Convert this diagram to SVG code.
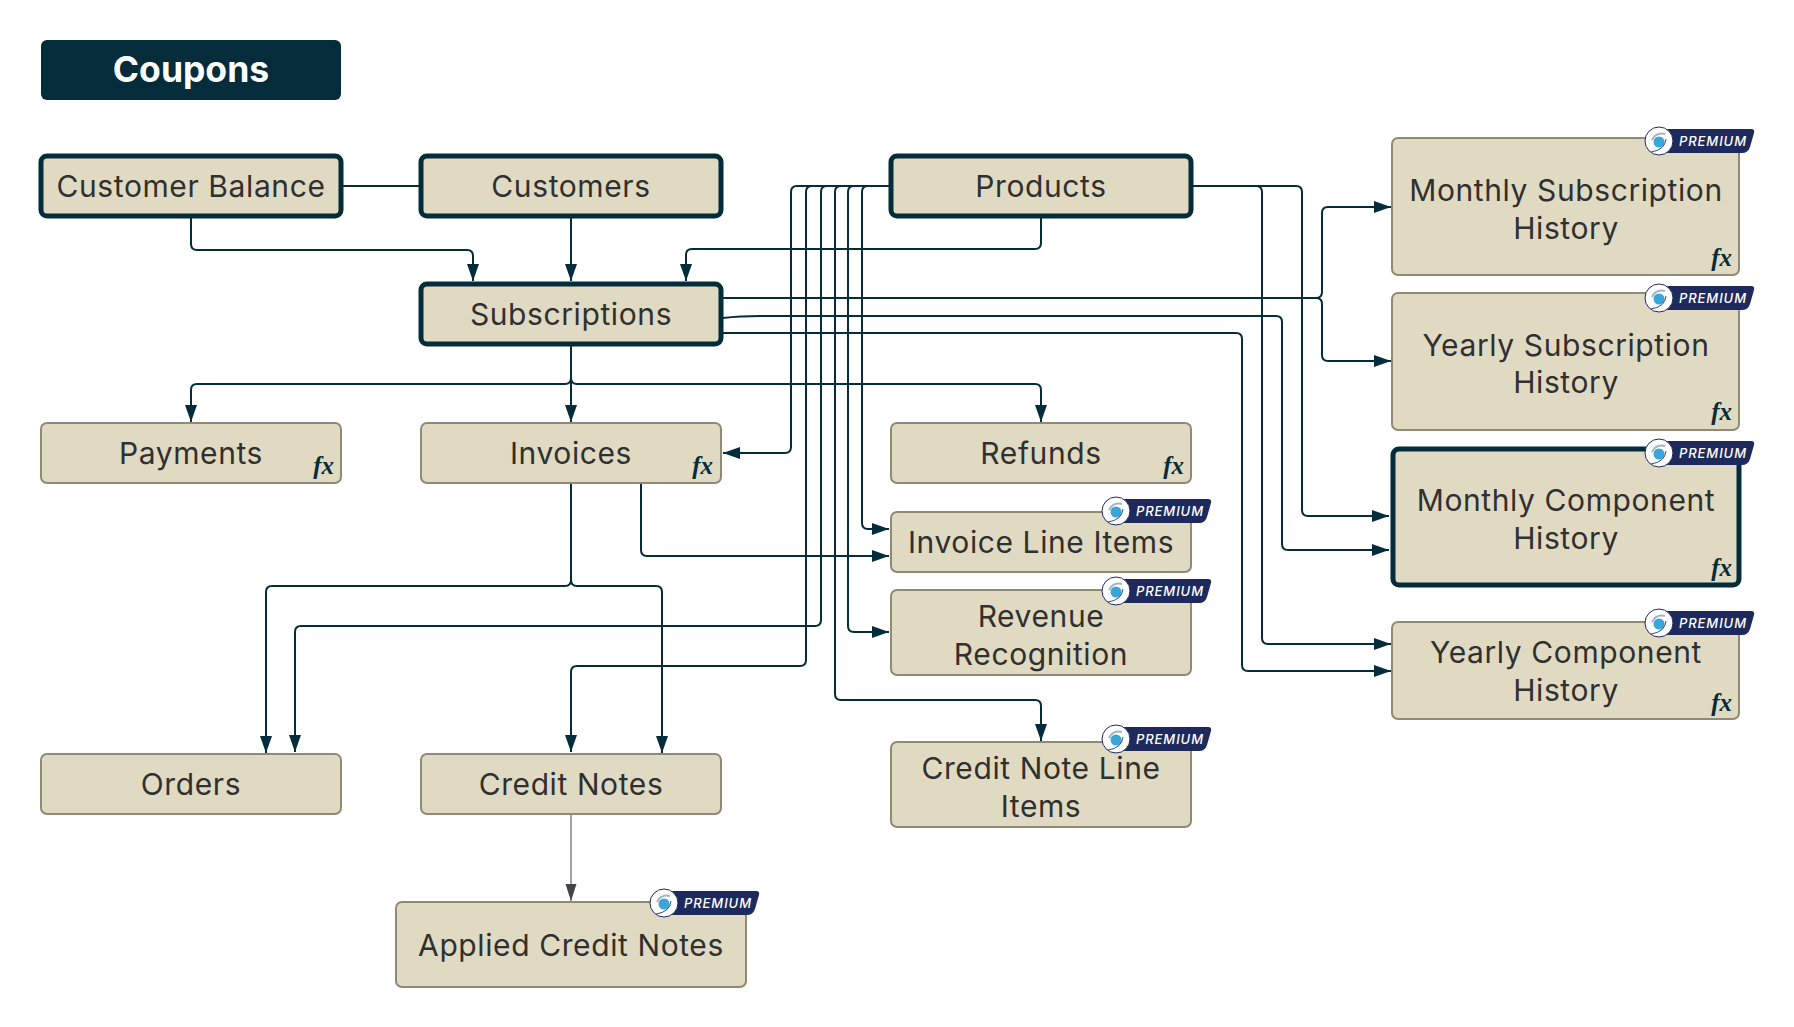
<svg xmlns="http://www.w3.org/2000/svg" xmlns:xlink="http://www.w3.org/1999/xlink" width="1794" height="1027" viewBox="0 0 1794 1027">
<style>
.n{fill:#e0dac2;stroke:#908a75;stroke-width:2}
.k{fill:#e0dac2;stroke:#042c3b;stroke-width:5}
.t{font-family:Inter,"Liberation Sans",sans-serif;font-size:30px;letter-spacing:.6px;fill:#303030;text-anchor:middle}
.fx{font-family:"Liberation Serif",serif;font-style:italic;font-weight:700;font-size:25px;fill:#042c3b;text-anchor:end}
.c{fill:none;stroke:#042c3b;stroke-width:2;marker-end:url(#a)}
.p{font-family:Inter,"Liberation Sans",sans-serif;font-style:italic;font-weight:500;font-size:13px;fill:#fff}
</style>
<defs>
<marker id="a" markerUnits="userSpaceOnUse" markerWidth="18" markerHeight="14" refX="17" refY="6.5" orient="auto"><path d="M0 0.5L17 6.5L0 12.5Z" fill="#042c3b"/></marker>
<marker id="g" markerUnits="userSpaceOnUse" markerWidth="18" markerHeight="14" refX="17" refY="6" orient="auto"><path d="M0 0.5L17 6L0 11.5Z" fill="#42464c"/></marker>
<g id="badge">
<path d="M0-12H92Q96-12 95-8L91 6Q89 12 83 12H0Z" fill="#1f2a5c"/>
<circle r="14" fill="#fff" stroke="#1f2a5c" stroke-width="1"/>
<circle cx="0" cy="1" r="5.5" fill="#3aa5d8"/>
<path d="M-8 11Q6 9 7-2" fill="none" stroke="#3a4a78" stroke-width="1"/>
<path d="M-7-1Q-3-9 6-7" fill="none" stroke="#9fb4c6" stroke-width="2"/>
<text class="p" x="20" y="4.5" textLength="67">PREMIUM</text>
</g>
</defs>
<rect width="1794" height="1027" fill="#fff"/>
<g id="connectors">
<path class="c" style="marker-end:none" d="M342 186H421"/>
<path class="c" d="M191 217V244Q191 250 197 250H467Q473 250 473 256V281"/>
<path class="c" d="M571 217V281"/>
<path class="c" d="M1041 218V243Q1041 249 1035 249H692Q686 249 686 255V281"/>
<path class="c" d="M571 346V378Q571 384 565 384H197Q191 384 191 390V422"/>
<path class="c" d="M571 346V422"/>
<path class="c" d="M571 346V378Q571 384 577 384H1035Q1041 384 1041 390V422"/>
<path class="c" d="M889 186H797Q791 186 791 192V447Q791 453 785 453H723"/>
<path class="c" d="M889 186H812Q806 186 806 192V660Q806 666 800 666H577Q571 666 571 672V752"/>
<path class="c" d="M889 186H827Q821 186 821 192V620Q821 626 815 626H301Q295 626 295 632V752"/>
<path class="c" d="M889 186H841Q835 186 835 192V694Q835 700 841 700H1035Q1041 700 1041 706V741"/>
<path class="c" d="M889 186H854Q848 186 848 192V626Q848 632 854 632H889"/>
<path class="c" d="M889 186H868Q862 186 862 192V523Q862 529 868 529H889"/>
<path class="c" d="M1193 186H1296Q1302 186 1302 192V510Q1302 516 1308 516H1389"/>
<path class="c" d="M1193 186H1256Q1262 186 1262 192V638Q1262 644 1268 644H1391"/>
<path class="c" d="M723 298H1316Q1322 298 1322 292V213Q1322 207 1328 207H1391"/>
<path class="c" d="M723 298H1316Q1322 298 1322 304V355Q1322 361 1328 361H1391"/>
<path class="c" d="M723 318Q740 316 760 316H1276Q1282 316 1282 322V544Q1282 550 1288 550H1389"/>
<path class="c" d="M723 333H1236Q1242 333 1242 339V665Q1242 671 1248 671H1391"/>
<path class="c" d="M571 483V580Q571 586 565 586H272Q266 586 266 592V753"/>
<path class="c" d="M571 483V580Q571 586 577 586H656Q662 586 662 592V753"/>
<path class="c" d="M641 483V550Q641 556 647 556H889"/>
<path d="M571 814V901" fill="none" stroke="#42464c" stroke-width="1" marker-end="url(#g)"/>
</g>
<g id="title"><rect x="41" y="40" width="300" height="60" rx="6" fill="#042c3b"/><text x="191" y="82" text-anchor="middle" font-family="Inter,'Liberation Sans',sans-serif" font-weight="700" font-size="35.5" fill="#fff">Coupons</text></g>
<g id="customer-balance"><rect class="k" x="41" y="156" width="300" height="60" rx="6"/><text class="t" x="191" y="197">Customer Balance</text></g>
<g id="customers"><rect class="k" x="421" y="156" width="300" height="60" rx="6"/><text class="t" x="571" y="197">Customers</text></g>
<g id="products"><rect class="k" x="891" y="156" width="300" height="60" rx="6"/><text class="t" x="1041" y="197">Products</text></g>
<g id="subscriptions"><rect class="k" x="421" y="284" width="300" height="60" rx="6"/><text class="t" x="571" y="325">Subscriptions</text></g>
<g id="payments"><rect class="n" x="41" y="423" width="300" height="60" rx="6"/><text class="t" x="191" y="464">Payments</text><text class="fx" x="334" y="474">fx</text></g>
<g id="invoices"><rect class="n" x="421" y="423" width="300" height="60" rx="6"/><text class="t" x="571" y="464">Invoices</text><text class="fx" x="713" y="474">fx</text></g>
<g id="refunds"><rect class="n" x="891" y="423" width="300" height="60" rx="6"/><text class="t" x="1041" y="464">Refunds</text><text class="fx" x="1184" y="474">fx</text></g>
<g id="invoice-line-items"><rect class="n" x="891" y="512" width="300" height="60" rx="6"/><text class="t" x="1041" y="553">Invoice Line Items</text><use xlink:href="#badge" href="#badge" x="1116" y="511"/></g>
<g id="revenue-recognition"><rect class="n" x="891" y="590" width="300" height="85" rx="6"/><text class="t" x="1041" y="627">Revenue</text><text class="t" x="1041" y="665">Recognition</text><use xlink:href="#badge" href="#badge" x="1116" y="591"/></g>
<g id="credit-note-line-items"><rect class="n" x="891" y="742" width="300" height="85" rx="6"/><text class="t" x="1041" y="779">Credit Note Line</text><text class="t" x="1041" y="817">Items</text><use xlink:href="#badge" href="#badge" x="1116" y="739"/></g>
<g id="orders"><rect class="n" x="41" y="754" width="300" height="60" rx="6"/><text class="t" x="191" y="795">Orders</text></g>
<g id="credit-notes"><rect class="n" x="421" y="754" width="300" height="60" rx="6"/><text class="t" x="571" y="795">Credit Notes</text></g>
<g id="applied-credit-notes"><rect class="n" x="396" y="902" width="350" height="85" rx="6"/><text class="t" x="571" y="956">Applied Credit Notes</text><use xlink:href="#badge" href="#badge" x="664" y="903"/></g>
<g id="monthly-subscription-history"><rect class="n" x="1392" y="138" width="347" height="137" rx="6"/><text class="t" x="1566" y="201">Monthly Subscription</text><text class="t" x="1566" y="239">History</text><text class="fx" x="1732" y="266">fx</text><use xlink:href="#badge" href="#badge" x="1659" y="141"/></g>
<g id="yearly-subscription-history"><rect class="n" x="1392" y="293" width="347" height="137" rx="6"/><text class="t" x="1566" y="356">Yearly Subscription</text><text class="t" x="1566" y="393">History</text><text class="fx" x="1732" y="420">fx</text><use xlink:href="#badge" href="#badge" x="1659" y="298"/></g>
<g id="monthly-component-history"><rect class="k" x="1393" y="449" width="346" height="136" rx="6"/><text class="t" x="1566" y="511">Monthly Component</text><text class="t" x="1566" y="549">History</text><text class="fx" x="1732" y="576">fx</text><use xlink:href="#badge" href="#badge" x="1659" y="453"/></g>
<g id="yearly-component-history"><rect class="n" x="1392" y="622" width="347" height="97" rx="6"/><text class="t" x="1566" y="663">Yearly Component</text><text class="t" x="1566" y="701">History</text><text class="fx" x="1732" y="711">fx</text><use xlink:href="#badge" href="#badge" x="1659" y="623"/></g>
</svg>
